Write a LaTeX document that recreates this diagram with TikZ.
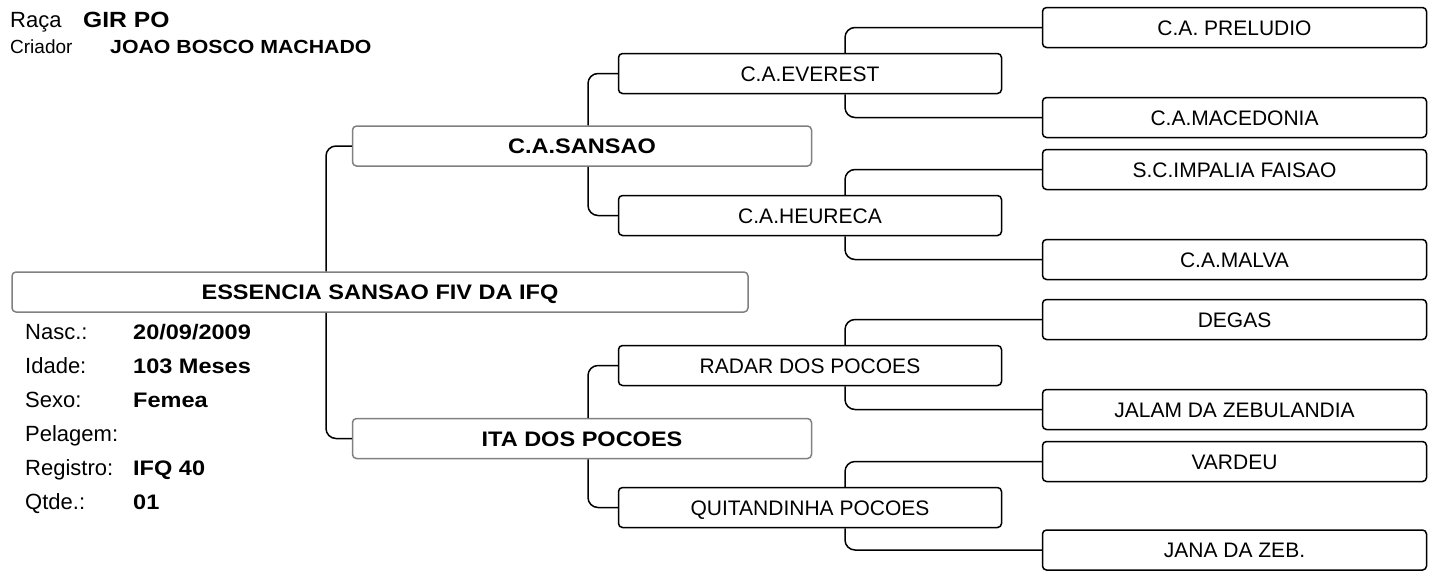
\documentclass[tikz,border=0pt]{standalone}
\usepackage{fontspec}
\setmainfont{Liberation Sans}[BoldFeatures={FakeStretch=1.12}]
\usepackage{xcolor}
\usepackage{tikz}
\usetikzlibrary{positioning}

\definecolor{boxgray}{RGB}{128,128,128}

\begin{document}
\begin{tikzpicture}[
  x=1pt, y=-1pt,
  box/.style={draw, rounded corners=4pt, line width=1.5pt, minimum height=40pt,
    inner sep=0pt, text height=15pt, text depth=0pt, font=\fontsize{21}{25}\selectfont},
  lvone/.style={box, draw=boxgray, minimum width=736pt, font=\bfseries\fontsize{21}{25}\selectfont},
  lvtwo/.style={box, draw=boxgray, minimum width=459pt, font=\bfseries\fontsize{21}{25}\selectfont},
  lvthree/.style={box, minimum width=383pt},
  lvfour/.style={box, minimum width=384pt},
  info/.style={anchor=base west, inner sep=0pt, font=\fontsize{22}{26}\selectfont},
  infoval/.style={info, font=\bfseries\fontsize{21}{26}\selectfont},
  link/.style={line width=1.5pt, rounded corners=10pt}
]
\useasboundingbox (0,0) rectangle (1434,571);

% header
\node[info, font=\fontsize{22}{26}\selectfont] (raca) at (10,27) {Raça};
\node[infoval, font=\bfseries\fontsize{22}{26}\selectfont] (racaval) at (83,27) {GIR PO};
\node[info, font=\fontsize{19}{22}\selectfont] (criador) at (10,53) {Criador};
\node[infoval, font=\bfseries\fontsize{19}{22}\selectfont] (criadorval) at (110,53) {JOAO BOSCO MACHADO};

% animal
\node[lvone] (root) at (380,292) {ESSENCIA SANSAO FIV DA IFQ};

\node[info] (nasc) at (25,339) {Nasc.:};
\node[infoval] (nascval) at (133,339) {20/09/2009};
\node[info] (idade) at (25,373) {Idade:};
\node[infoval] (idadeval) at (133,373) {103 Meses};
\node[info] (sexo) at (25,407) {Sexo:};
\node[infoval] (sexoval) at (133,407) {Femea};
\node[info] (pelagem) at (25,441) {Pelagem:};
\node[info] (registro) at (25,475) {Registro:};
\node[infoval] (registroval) at (133,475) {IFQ 40};
\node[info] (qtde) at (25,509) {Qtde.:};
\node[infoval] (qtdeval) at (133,509) {01};

% parents
\node[lvtwo] (sansao) at (582,146) {C.A.SANSAO};
\node[lvtwo] (ita) at (582,438.5) {ITA DOS POCOES};

% grandparents
\node[lvthree] (everest) at (810,73.5) {C.A.EVEREST};
\node[lvthree] (heureca) at (810,215.5) {C.A.HEURECA};
\node[lvthree] (radar) at (810,365.5) {RADAR DOS POCOES};
\node[lvthree] (quitand) at (810,507.5) {QUITANDINHA POCOES};

% great-grandparents
\node[lvfour] (preludio) at (1234.5,27.5) {C.A. PRELUDIO};
\node[lvfour] (macedonia) at (1234.5,117.5) {C.A.MACEDONIA};
\node[lvfour] (impalia) at (1234.5,169.5) {S.C.IMPALIA FAISAO};
\node[lvfour] (malva) at (1234.5,259.5) {C.A.MALVA};
\node[lvfour] (degas) at (1234.5,319.5) {DEGAS};
\node[lvfour] (jalam) at (1234.5,409.5) {JALAM DA ZEBULANDIA};
\node[lvfour] (vardeu) at (1234.5,461.5) {VARDEU};
\node[lvfour] (jana) at (1234.5,550) {JANA DA ZEB.};

% connectors
\coordinate (vone) at (326,0);
\coordinate (vtwo) at (588,0);
\coordinate (vthree) at (845,0);

\draw[link] (root.north -| vone) |- (sansao.west);
\draw[link] (root.south -| vone) |- (ita.west);

\draw[link] (sansao.north -| vtwo) |- (everest.west);
\draw[link] (sansao.south -| vtwo) |- (heureca.west);
\draw[link] (ita.north -| vtwo) |- (radar.west);
\draw[link] (ita.south -| vtwo) |- (quitand.west);

\draw[link] (everest.north -| vthree) |- (preludio.west);
\draw[link] (everest.south -| vthree) |- (macedonia.west);
\draw[link] (heureca.north -| vthree) |- (impalia.west);
\draw[link] (heureca.south -| vthree) |- (malva.west);
\draw[link] (radar.north -| vthree) |- (degas.west);
\draw[link] (radar.south -| vthree) |- (jalam.west);
\draw[link] (quitand.north -| vthree) |- (vardeu.west);
\draw[link] (quitand.south -| vthree) |- (jana.west);
\end{tikzpicture}
\end{document}
